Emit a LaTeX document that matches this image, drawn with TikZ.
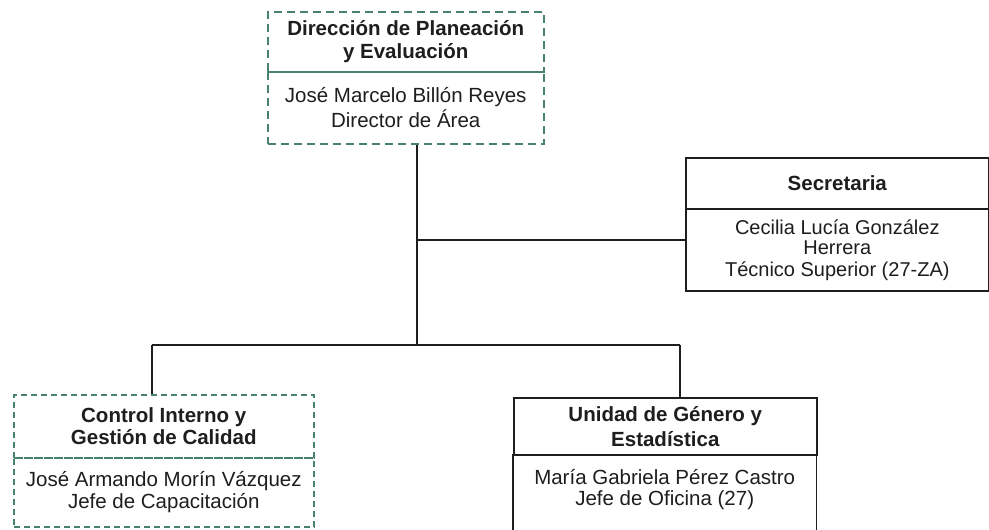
\documentclass[tikz,border=0pt]{standalone}
\usepackage{fontspec}
\setmainfont{Liberation Sans}
\definecolor{ink}{RGB}{30,30,30}
\definecolor{dashc}{RGB}{72,128,114}
\begin{document}
\begin{tikzpicture}[x=1pt,y=-1pt]
\tikzset{
  box/.style={rectangle, inner sep=0pt, anchor=north west, align=center, text=ink,
              font=\fontsize{20.5}{23}\selectfont},
  dbox/.style={box, draw=dashc, dash pattern=on 8pt off 5pt, line width=1.5pt},
  sbox/.style={box, draw=ink, line width=1.6pt},
  ttl/.style={font=\bfseries\fontsize{20.5}{23}\selectfont},
  conn/.style={draw=ink, line width=1.6pt}
}
\clip (0,0) rectangle (989,530);
\fill[white] (0,0) rectangle (989,530);

% top box
\node[dbox, ttl, minimum width=276pt, minimum height=60pt] (toptitle) at (267,11)
  {Dirección de Planeación\\y Evaluación};
\node[dbox, minimum width=276pt, minimum height=72pt, font=\fontsize{20.5}{25}\selectfont] (topbody) at (267,71)
  {José Marcelo Billón Reyes\\Director de Área};

% secretaria
\node[sbox, ttl, minimum width=303pt, minimum height=51pt] (sectitle) at (685,157) {Secretaria};
\node[sbox, minimum width=303pt, minimum height=82pt, font=\fontsize{20}{23}\selectfont] (secbody) at (685,208)
  {Cecilia Lucía González\\[-3pt]Herrera\\[-1pt]Técnico Superior (27-ZA)};

% control interno
\node[dbox, dash pattern=on 6pt off 4pt, minimum width=300pt, minimum height=63pt, font=\bfseries\fontsize{20.5}{22}\selectfont] (ctltitle) at (13,394)
  {Control Interno y\\Gestión de Calidad};
\node[dbox, dash pattern=on 6pt off 4pt, minimum width=300pt, minimum height=69pt, font=\fontsize{20.5}{22}\selectfont] (ctlbody) at (13,457)
  {José Armando Morín Vázquez\\Jefe de Capacitación};

% unidad de genero
\node[sbox, minimum width=303pt, minimum height=57pt, font=\bfseries\fontsize{20.5}{25}\selectfont] (unititle) at (513,397)
  {Unidad de Género y\\Estadística};
\node[box, minimum width=303pt, minimum height=70pt, font=\fontsize{20.5}{21}\selectfont] (unibody) at (513,454)
  {María Gabriela Pérez Castro\\Jefe de Oficina (27)};
\draw[conn] (unibody.north west) -- ([yshift=-40pt]unibody.south west);
\draw[conn] (unibody.north east) -- ([yshift=-40pt]unibody.south east);

% connectors
\coordinate (jt) at (417,345);
\coordinate (js) at (417,240);
\coordinate (jl) at (152,345);
\coordinate (jr) at (680,345);
\draw[conn] (topbody.south -| jt) -- (jt);
\draw[conn] (js) -- (js -| secbody.west);
\draw[conn] (jl) -- (jr);
\draw[conn] (jl) -- (jl |- ctltitle.north);
\draw[conn] (jr) -- (jr |- unititle.north);
\end{tikzpicture}
\end{document}
